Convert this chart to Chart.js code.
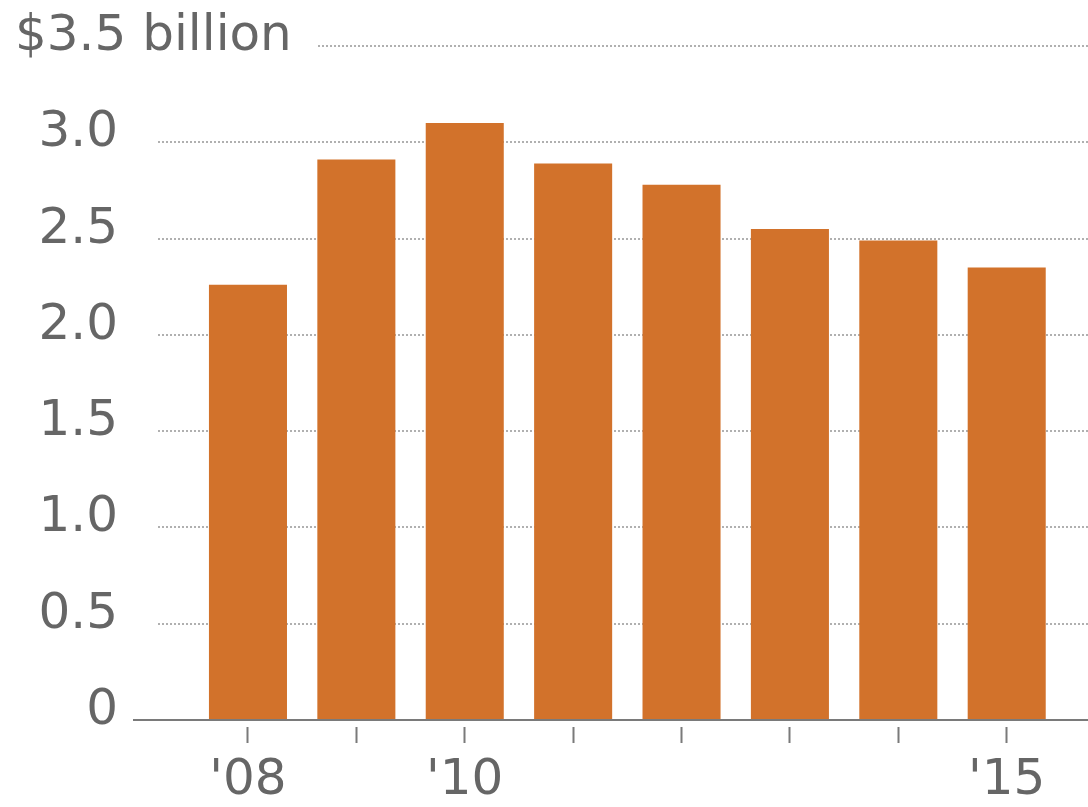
<!DOCTYPE html>
<html>
<head>
<meta charset="utf-8">
<script src="https://cdn.jsdelivr.net/npm/chart.js@4.4.1/dist/chart.umd.min.js"></script>
<style>
  html, body { margin: 0; padding: 0; background: #fff; }
  #wrap { width: 1088px; height: 807px; position: relative; }
</style>
</head>
<body>
<div id="wrap"><canvas id="spending_bars"></canvas></div>
<script>
// values, in billions of dollars
const years = [2008, 2009, 2010, 2011, 2012, 2013, 2014, 2015];
const amounts = [2.26, 2.91, 3.10, 2.89, 2.78, 2.55, 2.49, 2.35];
const labeledYears = [2008, 2010, 2015];
const yTicks = [0, 0.5, 1.0, 1.5, 2.0, 2.5, 3.0, 3.5];
const topLabel = '$3.5 billion';

const barColor = 'rgb(210, 114, 43)';
const textColor = '#666666';
const axisColor = '#7a7a7a';
const fontFamily = '"DejaVu Sans", sans-serif';

// top tick gets a unit label written out to the left instead of a plain number
const topLabelPlugin = {
  id: 'topLabel',
  afterDraw(chart) {
    const y = chart.scales.y;
    const py = y.getPixelForValue(yTicks[yTicks.length - 1]);
    const ctx = chart.ctx;
    ctx.save();
    ctx.font = '50px ' + fontFamily;
    const w = ctx.measureText(topLabel).width;
    ctx.fillStyle = '#ffffff';
    ctx.fillRect(0, py - 30, 15 + w + 25, 60);
    ctx.fillStyle = textColor;
    ctx.textAlign = 'left';
    ctx.textBaseline = 'middle';
    ctx.fillText(topLabel, 15, py - 9);
    ctx.restore();
  }
};

const data = {
  datasets: [{
    data: years.map((yr, i) => ({ x: yr, y: amounts[i] })),
    backgroundColor: barColor,
    borderWidth: 0,
    barPercentage: 0.72,
    categoryPercentage: 1
  }]
};

const options = {
  responsive: true,
  maintainAspectRatio: false,
  animation: false,
  layout: { padding: { top: 46, right: 0, left: 0, bottom: 0 } },
  plugins: { legend: { display: false }, tooltip: { enabled: false } },
  scales: {
    x: {
      type: 'linear',
      offset: false,
      min: 2007.17,
      max: 2015.75,
      afterBuildTicks(scale) { scale.ticks = years.map(v => ({ value: v })); },
      afterFit(scale) { scale.height = 87; },
      grid: {
        offset: false,
        drawOnChartArea: false,
        drawTicks: true,
        tickLength: 23,
        tickColor: axisColor,
        tickWidth: 2,
        tickBorderDash: [0, 6, 17, 200]
      },
      border: { display: true, color: axisColor, width: 2 },
      ticks: {
        autoSkip: false,
        maxRotation: 0,
        padding: 8,
        color: textColor,
        font: { family: fontFamily, size: 50 },
        callback: v => labeledYears.includes(v) ? "'" + String(v).slice(2) : ''
      }
    },
    y: {
      min: 0,
      max: 3.5,
      afterBuildTicks(scale) { scale.ticks = yTicks.map(v => ({ value: v })); },
      afterFit(scale) { scale.width = 158; },
      grid: {
        color: ctx => ctx.tick && ctx.tick.value === 0 ? 'rgba(0,0,0,0)' : '#b0b0b0',
        lineWidth: 2,
        drawTicks: true,
        tickLength: 25,
        tickWidth: 2,
        tickColor: ctx => ctx.tick && ctx.tick.value === 0 ? axisColor : 'rgba(0,0,0,0)'
      },
      border: { display: false, dash: [2, 2] },
      ticks: {
        padding: 15,
        labelOffset: -9,
        color: textColor,
        font: { family: fontFamily, size: 50 },
        callback: v => v === 3.5 ? '' : (v === 0 ? '0' : v.toFixed(1))
      }
    }
  }
};

const spending_bars = document.getElementById('spending_bars');
const chart = new Chart(spending_bars, {
  type: 'bar',
  data: data,
  options: options,
  plugins: [topLabelPlugin]
});
</script>
</body>
</html>
